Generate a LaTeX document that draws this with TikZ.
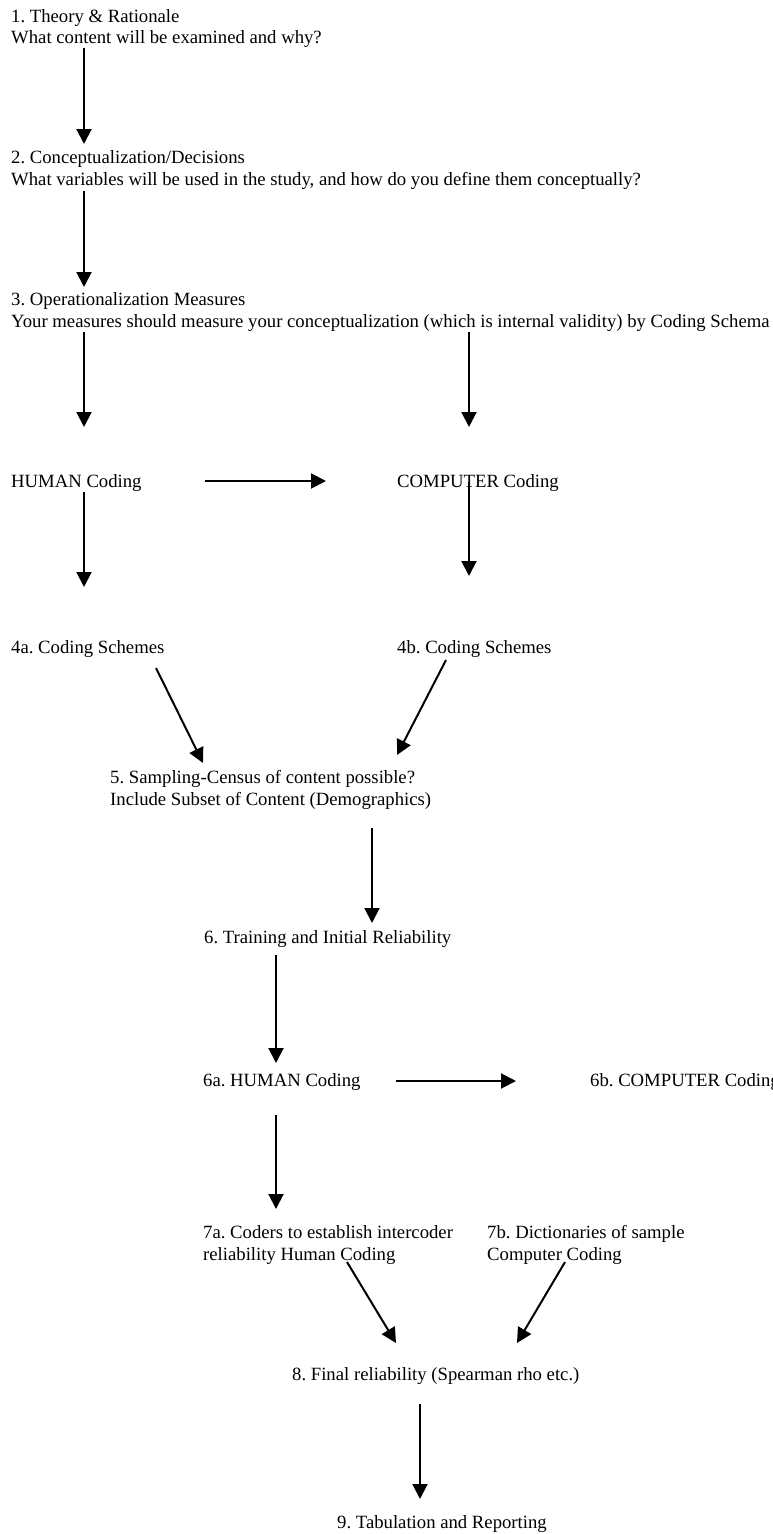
\documentclass[tikz,border=0pt]{standalone}
\usepackage{fontspec}
\setmainfont{Liberation Serif}
\usetikzlibrary{arrows.meta}
\frenchspacing

\begin{document}
\begin{tikzpicture}[x=1pt,y=-1pt,
	lbl/.style={anchor=base west,inner sep=0pt,font=\fontsize{18.7}{22}\selectfont},
	flow/.style={-{Triangle[width=15pt,length=15pt]},line width=2pt}]
	\useasboundingbox (0,0) rectangle (773,1534);
	% steps
	\node[lbl] (theory) at (11,22) {1. Theory \& Rationale};
	\node[lbl] (theoryq) at (11,43) {What content will be examined and why?};
	\node[lbl] (concept) at (11,163) {2. Conceptualization/Decisions};
	\node[lbl] (conceptq) at (11,185) {What variables will be used in the study, and how do you define them conceptually?};
	\node[lbl] (oper) at (11,305) {3. Operationalization Measures};
	\node[lbl] (operq) at (11,327) {Your measures should measure your conceptualization (which is internal validity) by Coding Schema};
	\node[lbl] (human) at (11,487) {HUMAN Coding};
	\node[lbl] (computer) at (397,487) {COMPUTER Coding};
	\node[lbl] (schemea) at (11,653) {4a. Coding Schemes};
	\node[lbl] (schemeb) at (397,653) {4b. Coding Schemes};
	\node[lbl] (sampling) at (110,783) {5. Sampling-Census of content possible?};
	\node[lbl] (subset) at (110,805) {Include Subset of Content (Demographics)};
	\node[lbl] (training) at (204,943) {6. Training and Initial Reliability};
	\node[lbl] (humanb) at (203,1086) {6a. HUMAN Coding};
	\node[lbl] (computerb) at (590,1086) {6b. COMPUTER Coding};
	\node[lbl] (coders) at (203,1238) {7a. Coders to establish intercoder};
	\node[lbl] (codersb) at (203,1260) {reliability Human Coding};
	\node[lbl] (dict) at (487,1238) {7b. Dictionaries of sample};
	\node[lbl] (dictb) at (487,1260) {Computer Coding};
	\node[lbl] (final) at (292,1380) {8. Final reliability (Spearman rho etc.)};
	\node[lbl] (tab) at (337,1528) {9. Tabulation and Reporting};
	% arrow ends
	\coordinate (t1) at (84,48);   \coordinate (h1) at (84,144);
	\coordinate (t2) at (84,191);  \coordinate (h2) at (84,287);
	\coordinate (t3) at (84,332);  \coordinate (h3) at (84,427);
	\coordinate (t4) at (469,332); \coordinate (h4) at (469,427);
	\coordinate (t5) at (205,481); \coordinate (h5) at (326,481);
	\coordinate (t6) at (84,492);  \coordinate (h6) at (84,587);
	\coordinate (t7) at (469,482); \coordinate (h7) at (469,576);
	\coordinate (t8) at (156,668); \coordinate (h8) at (203,763);
	\coordinate (t9) at (446,660); \coordinate (h9) at (397,755);
	\coordinate (t10) at (372,828); \coordinate (h10) at (372,923);
	\coordinate (t11) at (276,955); \coordinate (h11) at (276,1063);
	\coordinate (t12) at (396,1081); \coordinate (h12) at (516,1081);
	\coordinate (t13) at (276,1115); \coordinate (h13) at (276,1209);
	\coordinate (t14) at (347,1262); \coordinate (h14) at (396,1343);
	\coordinate (t15) at (565,1262); \coordinate (h15) at (517,1343);
	\coordinate (t16) at (420,1404); \coordinate (h16) at (420,1499);
	\foreach \i in {1,...,16} \draw[flow] (t\i) -- (h\i);
\end{tikzpicture}
\end{document}
